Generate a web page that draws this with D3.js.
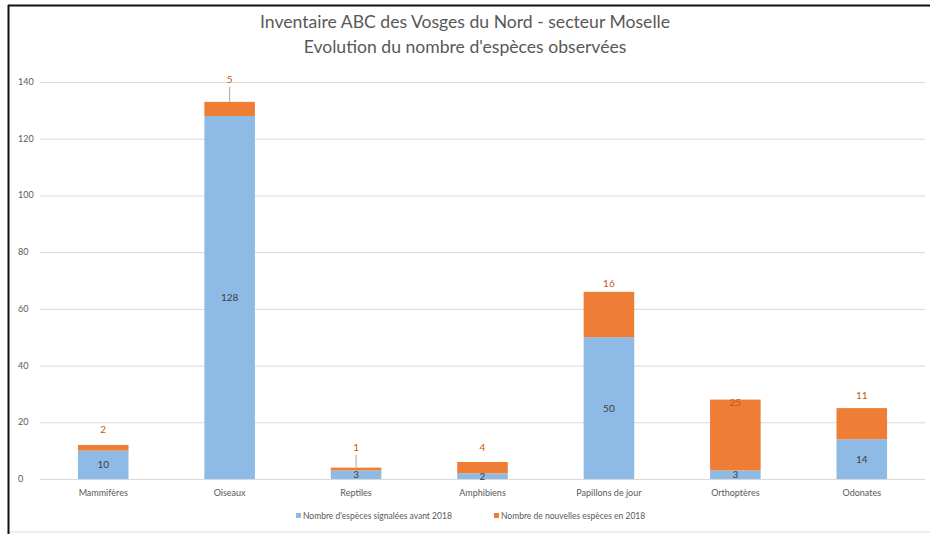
<!DOCTYPE html>
<meta charset="utf-8">
<script src="https://d3js.org/d3.v7.min.js"></script>
<style>
  body { margin: 0; background: #fff; }
  text { font-family: Lato, "Open Sans", sans-serif; }
</style>
<svg id="chart" width="930" height="534"></svg>
<script>
// data
var categories = ["Mammifères", "Oiseaux", "Reptiles", "Amphibiens", "Papillons de jour", "Orthoptères", "Odonates"];
var avant2018 = [10, 128, 3, 2, 50, 3, 14];
var nouvelles2018 = [2, 5, 1, 4, 16, 25, 11];
var yTicks = [0, 20, 40, 60, 80, 100, 120, 140];
var seriesNames = ["Nombre d'espèces signalées avant 2018", "Nombre de nouvelles espèces en 2018"];

// label tweaks for the orange values (px above bar top, leader line or not)
var labelLift = [12, 19, 17, 11, 5, -6, 9];
var leader = [false, true, true, false, false, false, false];

var blue = "#8dbbe5", orange = "#ee7e35";

var svg = d3.select("#chart");

// frame
svg.append("rect").attr("x", 8.5).attr("y", 5.5).attr("width", 940).attr("height", 526.5)
  .attr("fill", "#fff").attr("stroke", "#ddd");
svg.append("line").attr("x1", 8).attr("x2", 930).attr("y1", 5.5).attr("y2", 5.5).attr("stroke", "#111").attr("stroke-width", 2);
svg.append("line").attr("x1", 8.5).attr("x2", 8.5).attr("y1", 5).attr("y2", 534).attr("stroke", "#111").attr("stroke-width", 2);

// titles
svg.append("text").attr("x", 465).attr("y", 28).attr("text-anchor", "middle")
  .attr("font-size", 17.6).attr("fill", "#595959").text("Inventaire ABC des Vosges du Nord - secteur Moselle");
svg.append("text").attr("x", 465).attr("y", 53).attr("text-anchor", "middle")
  .attr("font-size", 17.6).attr("fill", "#595959").text("Evolution du nombre d'espèces observées");

var x = d3.scaleBand().domain(categories).range([40, 925]).paddingInner(0.6).paddingOuter(0.3);
var y = d3.scaleLinear().domain([0, 140]).range([479, 82]);

// grid
svg.append("g").selectAll("line").data(yTicks).enter().append("line")
  .attr("x1", 40).attr("x2", 925)
  .attr("y1", function(d) { return y(d) + 0.5; }).attr("y2", function(d) { return y(d) + 0.5; })
  .attr("stroke", "#d9d9d9").attr("stroke-width", 1);

// y labels
svg.append("g").selectAll("text").data(yTicks).enter().append("text")
  .attr("x", 18).attr("y", function(d) { return y(d) + 3; })
  .attr("font-size", 9).attr("fill", "#595959").text(function(d) { return d; });

// stacked bars
var rows = categories.map(function(c, i) { return { cat: c, a: avant2018[i], n: nouvelles2018[i], i: i }; });
var g = svg.append("g");

g.selectAll(".blue").data(rows).enter().append("rect")
  .attr("x", function(d) { return x(d.cat); }).attr("width", x.bandwidth())
  .attr("y", function(d) { return y(d.a); }).attr("height", function(d) { return y(0) - y(d.a); })
  .attr("fill", blue);

g.selectAll(".orange").data(rows).enter().append("rect")
  .attr("x", function(d) { return x(d.cat); }).attr("width", x.bandwidth())
  .attr("y", function(d) { return y(d.a + d.n); }).attr("height", function(d) { return y(d.a) - y(d.a + d.n); })
  .attr("fill", orange);

// blue labels
g.selectAll(".bl").data(rows).enter().append("text")
  .attr("x", function(d) { return x(d.cat) + x.bandwidth() / 2; })
  .attr("y", function(d) { return Math.min((y(0) + y(d.a)) / 2 + 3.5, y(0) + 2); })
  .attr("text-anchor", "middle").attr("font-size", 10).attr("fill", "#404040")
  .text(function(d) { return d.a; });

// orange labels
g.selectAll(".ol").data(rows).enter().append("text")
  .attr("x", function(d) { return x(d.cat) + x.bandwidth() / 2; })
  .attr("y", function(d) { return y(d.a + d.n) - labelLift[d.i]; })
  .attr("text-anchor", "middle").attr("font-size", 10).attr("fill", "#c55a11")
  .text(function(d) { return d.n; });

g.selectAll(".ld").data(rows.filter(function(d) { return leader[d.i]; })).enter().append("line")
  .attr("x1", function(d) { return x(d.cat) + x.bandwidth() / 2; })
  .attr("x2", function(d) { return x(d.cat) + x.bandwidth() / 2; })
  .attr("y1", function(d) { return y(d.a + d.n) - labelLift[d.i] + 4; })
  .attr("y2", function(d) { return y(d.a + d.n); })
  .attr("stroke", "#a6a6a6").attr("stroke-width", 1);

// x labels
svg.append("g").selectAll("text").data(categories).enter().append("text")
  .attr("x", function(d) { return x(d) + x.bandwidth() / 2; }).attr("y", 496)
  .attr("text-anchor", "middle").attr("font-size", 9).attr("fill", "#595959").text(function(d) { return d; });

// legend
var legend = svg.append("g");
var legX = [296, 494];
[blue, orange].forEach(function(col, i) {
  legend.append("rect").attr("x", legX[i]).attr("y", 513).attr("width", 5).attr("height", 5).attr("fill", col);
  legend.append("text").attr("x", legX[i] + 7).attr("y", 519).attr("font-size", 8.5).attr("fill", "#595959").text(seriesNames[i]);
});
</script>
